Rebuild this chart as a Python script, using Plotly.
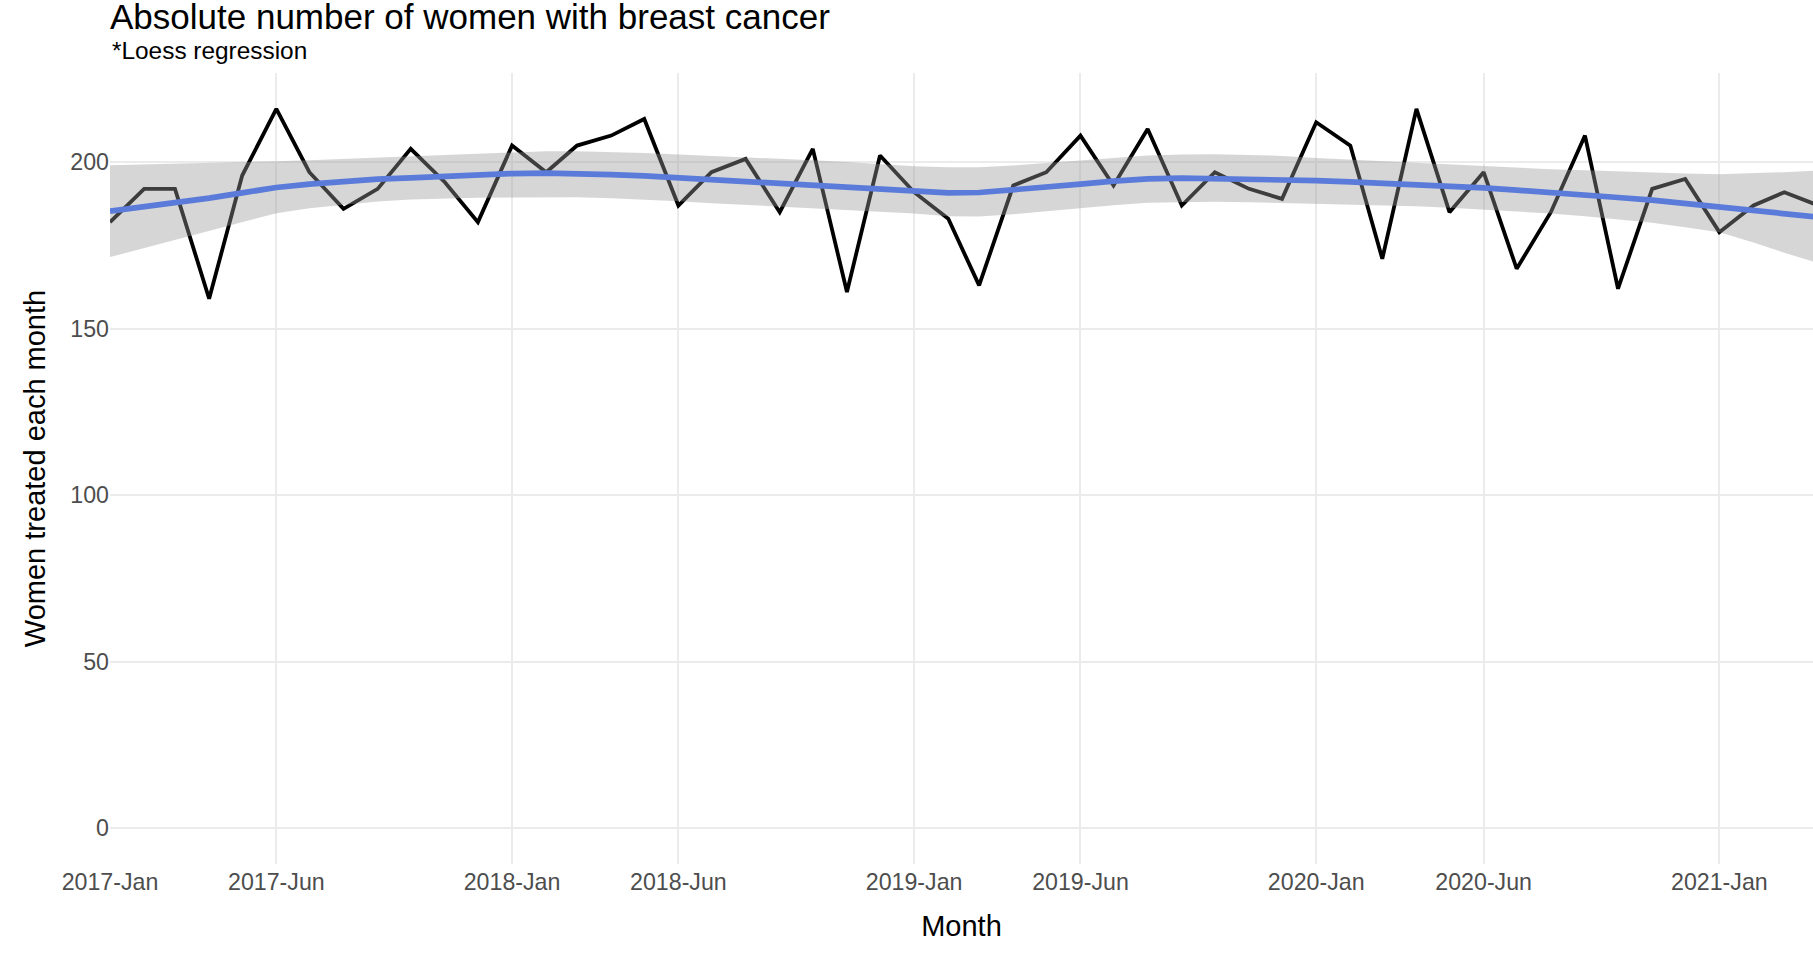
import pandas as pd
import plotly.graph_objects as go

# ---- data ----
months = pd.date_range("2017-01-01", periods=52, freq="MS")

women_treated = [182, 192, 192, 159, 196, 216, 197, 186, 192, 204, 194, 182,
                 205, 197, 205, 208, 213, 187, 197, 201, 185, 204, 161, 202,
                 191, 183, 163, 193, 197, 208, 193, 210, 187, 197, 192, 189,
                 212, 205, 171, 216, 185, 197, 168, 185, 208, 162, 192, 195,
                 179, 187, 191, 187]

loess_fit = [185.3, 186.5, 187.8, 189.2, 190.8, 192.4, 193.4, 194.2, 194.9, 195.3, 195.8, 196.2,
             196.6, 196.7, 196.6, 196.3, 195.9, 195.3, 194.9, 194.4, 193.9, 193.3, 192.7, 192.0,
             191.3, 190.8, 190.9, 191.6, 192.4, 193.4, 194.3, 195.0, 195.2, 195.1, 194.9, 194.8,
             194.5, 194.1, 193.7, 193.3, 192.8, 192.3, 191.6, 191.0, 190.2, 189.4, 188.6, 187.6,
             186.6, 185.6, 184.6, 183.5]

loess_upper = [199.1, 199.3, 199.5, 199.7, 200.0, 200.3, 200.6, 201.0, 201.4, 201.9, 202.3, 202.7,
               203.1, 203.3, 203.3, 203.1, 202.8, 202.3, 201.9, 201.6, 201.2, 200.6, 200.1, 199.4,
               198.8, 198.5, 198.5, 199.0, 199.7, 200.4, 201.2, 202.0, 202.3, 202.4, 202.2, 201.9,
               201.3, 200.8, 200.3, 199.8, 199.3, 198.8, 198.4, 197.9, 197.6, 197.2, 196.9, 196.6,
               196.4, 196.6, 197.0, 197.5]

loess_lower = [171.5, 174.2, 176.8, 179.3, 182.0, 184.7, 186.2, 187.3, 188.2, 188.8, 189.1, 189.3,
               189.4, 189.5, 189.5, 189.2, 188.8, 188.3, 187.7, 187.2, 186.7, 186.2, 185.8, 185.3,
               184.6, 183.8, 183.7, 184.4, 185.3, 186.3, 187.1, 187.8, 188.0, 188.1, 188.0, 187.8,
               187.6, 187.3, 187.0, 186.8, 186.3, 185.8, 185.2, 184.6, 183.8, 182.8, 181.8, 180.5,
               179.0, 175.9, 172.8, 169.7]

tick_dates = ["2017-01-01", "2017-06-01", "2018-01-01", "2018-06-01", "2019-01-01",
              "2019-06-01", "2020-01-01", "2020-06-01", "2021-01-01"]
tick_labels = ["2017-Jan", "2017-Jun", "2018-Jan", "2018-Jun", "2019-Jan",
               "2019-Jun", "2020-Jan", "2020-Jun", "2021-Jan"]
y_ticks = [0, 50, 100, 150, 200]

FONT = "Liberation Sans, Arial, sans-serif"
T, B = 73, 115
PLOT_H = 979 - T - B

fig = go.Figure()
fig.add_trace(go.Scatter(x=months, y=women_treated, mode="lines",
                         line=dict(color="black", width=3.8), showlegend=False,
                         name="Women treated"))
fig.add_trace(go.Scatter(x=months, y=loess_upper, mode="lines",
                         line=dict(width=0, color="rgba(0,0,0,0)"), showlegend=False,
                         hoverinfo="skip"))
fig.add_trace(go.Scatter(x=months, y=loess_lower, mode="lines",
                         line=dict(width=0, color="rgba(0,0,0,0)"), fill="tonexty",
                         fillcolor="rgba(153,153,153,0.4)", showlegend=False,
                         hoverinfo="skip"))
fig.add_trace(go.Scatter(x=months, y=loess_fit, mode="lines",
                         line=dict(color="#5A7BD9", width=5.7), showlegend=False,
                         name="Loess"))

fig.update_layout(
    width=1813, height=979,
    margin=dict(l=110, r=0, t=T, b=B),
    paper_bgcolor="white", plot_bgcolor="white",
    font=dict(family=FONT, color="black"),
    title=dict(text="Absolute number of women with breast cancer",
               font=dict(size=35, color="black", family=FONT),
               x=0, xref="paper", xanchor="left",
               y=1, yref="container", yanchor="top", pad=dict(t=4)),
    annotations=[dict(text="*Loess regression", xref="paper", yref="paper",
                      x=0, y=(979 - B - 50) / PLOT_H, xanchor="left", yanchor="middle",
                      showarrow=False, font=dict(size=24.4, color="black", family=FONT))],
    xaxis=dict(type="date", range=["2017-01-01", "2021-03-27"],
               tickvals=tick_dates, ticktext=tick_labels,
               showgrid=True, gridcolor="#EBEBEB", gridwidth=1.9,
               zeroline=False, showline=False, ticks="", ticklabelstandoff=2,
               tickfont=dict(size=23.2, color="#4D4D4D", family=FONT),
               title=dict(text="Month", font=dict(size=29, color="black", family=FONT),
                          standoff=21)),
    yaxis=dict(range=[-10.8, 226.8], tickvals=y_ticks,
               showgrid=True, gridcolor="#EBEBEB", gridwidth=1.9,
               zeroline=False, showline=False, ticks="",
               tickfont=dict(size=23.2, color="#4D4D4D", family=FONT),
               title=dict(text="Women treated each month",
                          font=dict(size=29, color="black", family=FONT), standoff=16)),
)

fig.write_html("out.html", config={"displayModeBar": False},
               post_script="document.body.style.margin='0';")
